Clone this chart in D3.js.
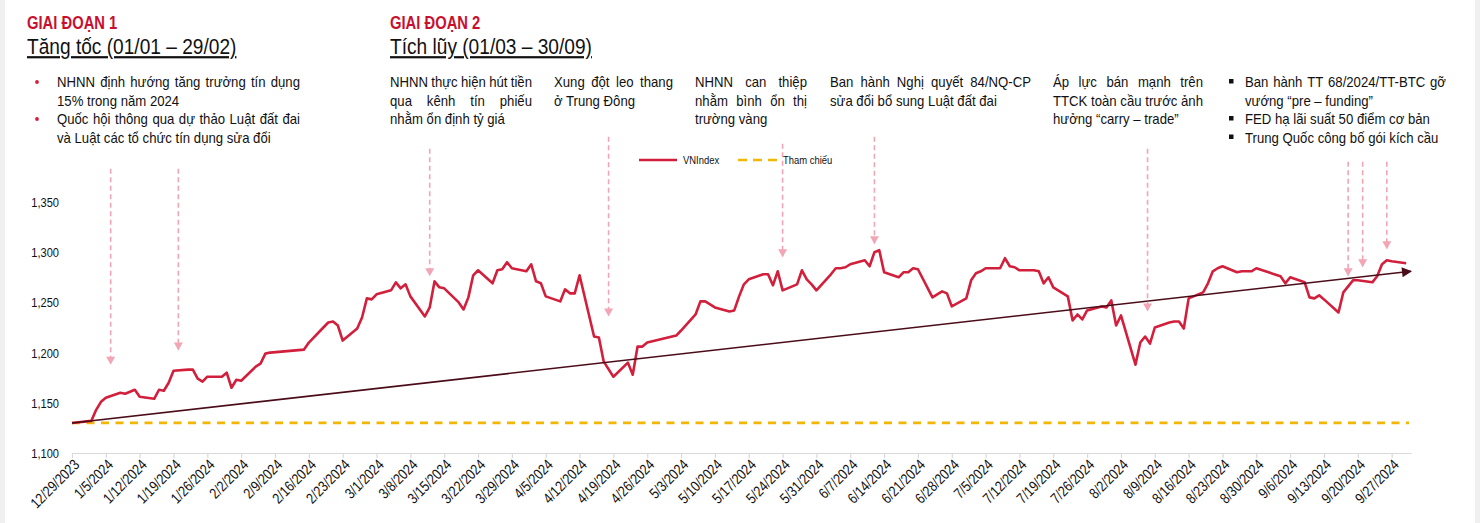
<!DOCTYPE html>
<html><head><meta charset="utf-8">
<script src="https://cdn.jsdelivr.net/npm/d3@7"></script>
<style>body{margin:0;background:#fff;} svg{display:block;}</style>
</head><body><svg id="c" width="1480" height="523"></svg>
<script>
// ---------------- DATA ----------------
const dates = ["2023-12-29","2024-01-02","2024-01-03","2024-01-04","2024-01-05","2024-01-08","2024-01-09","2024-01-10","2024-01-11","2024-01-12",
"2024-01-15","2024-01-16","2024-01-17","2024-01-18","2024-01-19","2024-01-22","2024-01-23","2024-01-24","2024-01-25","2024-01-26",
"2024-01-29","2024-01-30","2024-01-31","2024-02-01","2024-02-02","2024-02-05","2024-02-06","2024-02-07","2024-02-08","2024-02-15",
"2024-02-16","2024-02-19","2024-02-20","2024-02-21","2024-02-22","2024-02-23","2024-02-26","2024-02-27","2024-02-28","2024-02-29",
"2024-03-01","2024-03-04","2024-03-05","2024-03-06","2024-03-07","2024-03-08","2024-03-11","2024-03-12","2024-03-13","2024-03-14",
"2024-03-15","2024-03-18","2024-03-19","2024-03-20","2024-03-21","2024-03-22","2024-03-25","2024-03-26","2024-03-27","2024-03-28",
"2024-03-29","2024-04-01","2024-04-02","2024-04-03","2024-04-04","2024-04-05","2024-04-08","2024-04-09","2024-04-10","2024-04-11",
"2024-04-12","2024-04-15","2024-04-16","2024-04-17","2024-04-19","2024-04-22","2024-04-23","2024-04-24","2024-04-25","2024-04-26",
"2024-05-02","2024-05-03","2024-05-06","2024-05-07","2024-05-08","2024-05-09","2024-05-10","2024-05-13","2024-05-14","2024-05-15",
"2024-05-16","2024-05-17","2024-05-20","2024-05-21","2024-05-22","2024-05-23","2024-05-24","2024-05-27","2024-05-28","2024-05-29",
"2024-05-30","2024-05-31","2024-06-03","2024-06-04","2024-06-05","2024-06-06","2024-06-07","2024-06-10","2024-06-11","2024-06-12",
"2024-06-13","2024-06-14","2024-06-17","2024-06-18","2024-06-19","2024-06-20","2024-06-21","2024-06-24","2024-06-25","2024-06-26",
"2024-06-27","2024-06-28","2024-07-01","2024-07-02","2024-07-03","2024-07-04","2024-07-05","2024-07-08","2024-07-09","2024-07-10",
"2024-07-11","2024-07-12","2024-07-15","2024-07-16","2024-07-17","2024-07-18","2024-07-19","2024-07-22","2024-07-23","2024-07-24",
"2024-07-25","2024-07-26","2024-07-29","2024-07-30","2024-07-31","2024-08-01","2024-08-02","2024-08-05","2024-08-06","2024-08-07",
"2024-08-08","2024-08-09","2024-08-12","2024-08-13","2024-08-14","2024-08-15","2024-08-16","2024-08-19","2024-08-20","2024-08-21",
"2024-08-22","2024-08-23","2024-08-26","2024-08-27","2024-08-28","2024-08-29","2024-08-30","2024-09-04","2024-09-05","2024-09-06",
"2024-09-09","2024-09-10","2024-09-11","2024-09-12","2024-09-13","2024-09-16","2024-09-17","2024-09-18","2024-09-19","2024-09-20",
"2024-09-23","2024-09-24","2024-09-25","2024-09-26","2024-09-27","2024-09-30"];
const vnindex = [1129.93,1132,1143,1151,1155,1160,1159,1161,1163,1156,
1154,1163,1162,1170,1182,1183,1183,1174,1171,1176,
1176,1180,1165,1173,1172,1186,1189,1199,1200,1203,
1210,1225,1230,1231,1227,1212,1224,1235,1254,1253,
1258,1262,1270,1264,1268,1256,1236,1245,1271,1265,
1264,1250,1243,1255,1277,1282,1269,1282,1283,1290,
1284,1281,1288,1271,1269,1256,1251,1263,1259,1259,
1277,1216,1215,1191,1176,1190,1178,1206,1206,1210,
1217,1222,1238,1251,1251,1248,1245,1241,1242,1256,
1268,1273,1278,1278,1267,1281,1262,1268,1282,1273,
1268,1262,1278,1284,1284,1285,1288,1292,1286,1300,
1302,1280,1275,1280,1280,1284,1283,1255,1258,1261,
1259,1246,1254,1272,1279,1281,1284,1284,1294,1286,
1285,1282,1282,1281,1269,1275,1265,1256,1232,1238,
1233,1242,1246,1245,1252,1227,1237,1188,1210,1216,
1209,1225,1230,1231,1231,1224,1254,1260,1269,1281,
1284,1286,1280,1281,1281,1281,1284,1276,1269,1275,
1270,1255,1254,1257,1253,1240,1260,1266,1272,1272,
1270,1276,1288,1292,1291,1289];
const referenceValue = 1129.93;                 // "Tham chiếu"
const trendDates = ["2023-12-29","2024-10-01"];
const trendValues = [1129.93, 1281];
const yTickValues = [1100,1150,1200,1250,1300,1350];
const xTickStart = "2023-12-29", xTickCount = 40;  // weekly ticks
const xDomain = ["2023-12-29","2024-10-01"];
const yDomain = [1100,1350];
// event arrows (date, value at arrow tip, value at arrow top)
const arrowDates = ["2024-01-06","2024-01-20","2024-03-12","2024-04-18","2024-05-24","2024-06-12","2024-08-07T12:00","2024-09-18","2024-09-21","2024-09-26"];
const arrowTipValues = [1188,1202,1276,1236,1295,1308,1241,1276,1285,1303];
const arrowTopValues = [1383,1383,1403,1415,1408,1415,1403,1390,1390,1390];
const legendLabels = ["VNIndex","Tham chiếu"];

const phaseTitles = ["GIAI ĐOẠN 1","GIAI ĐOẠN 2"];
const phaseSubtitles = ["Tăng tốc (01/01 – 29/02)","Tích lũy (01/03 – 30/09)"];
const noteTexts = [
  ["NHNN định hướng tăng trưởng tín dụng","15% trong năm 2024","Quốc hội thông qua dự thảo Luật đất đai","và Luật các tổ chức tín dụng sửa đổi"],
  ["NHNN thực hiện hút tiền","qua kênh tín phiếu","nhằm ổn định tỷ giá"],
  ["Xung đột leo thang","ở Trung Đông"],
  ["NHNN can thiệp","nhằm bình ổn thị","trường vàng"],
  ["Ban hành Nghị quyết 84/NQ-CP","sửa đổi bổ sung Luật đất đai"],
  ["Áp lực bán mạnh trên","TTCK toàn cầu trước ảnh","hưởng “carry – trade”"],
  ["Ban hành TT 68/2024/TT-BTC gỡ","vướng “pre – funding”","FED hạ lãi suất 50 điểm cơ bản","Trung Quốc công bố gói kích cầu"]
];

// ---------------- LAYOUT / STYLE ----------------
const W = 1480, H = 523;
const RED = "#d21f3c", HEAD_RED = "#c8102e", PINK = "#f2a5b5", GOLD = "#f2b705", MAROON = "#4a0c18";
const noteLayout = [
  {x:57,  w:243, justify:[1,0,1,0], bullets:[0,2], btype:"dot"},
  {x:390, w:142, justify:[1,1,0]},
  {x:554, w:119, justify:[1,0]},
  {x:695, w:112, justify:[1,1,0]},
  {x:830, w:201, justify:[1,0]},
  {x:1053,w:150, justify:[1,1,0]},
  {x:1245,w:201, justify:[1,0,0,0], bullets:[0,2,3], btype:"square"}
];
const lineY = [87, 105.5, 124, 142.5];

const svg = d3.select("#c");
svg.append("rect").attr("width",W).attr("height",H).attr("fill","#fff");
svg.append("rect").attr("x",0).attr("y",0).attr("width",5).attr("height",H).attr("fill","#f0f0f0");
svg.append("rect").attr("x",1475).attr("y",0).attr("width",5).attr("height",H).attr("fill","#f0f0f0");

// font detection (narrow font)
function rawMeasure(fam, str, size, weight) {
  const t = svg.append("text").attr("font-family",fam).attr("font-size",size).attr("font-weight",weight||"normal").text(str);
  const w = t.node().getComputedTextLength(); t.remove(); return w;
}
const wN = rawMeasure("'Liberation Sans Narrow'", "NHNN định hướng tăng", 14);
const wR = rawMeasure("'Liberation Sans'", "NHNN định hướng tăng", 14);
const narrowOK = wN < wR * 0.9;
const FONT = narrowOK ? "'Liberation Sans Narrow','Arial Narrow',sans-serif" : "'Liberation Sans',Arial,sans-serif";
const SX = narrowOK ? 1 : 0.82;

function measure(str, size, weight, sx) { return rawMeasure(FONT, str, size, weight) * SX * (sx || 1); }
function txt(g, x, y, str, o) {
  o = o || {};
  return g.append("text").attr("transform", `translate(${x},${y}) scale(${SX * (o.sx || 1)},1)`)
    .attr("font-family", FONT).attr("font-size", o.size || 14).attr("fill", o.fill || "#111")
    .attr("font-weight", o.weight || "normal").attr("text-anchor", o.anchor || "start")
    .attr("text-decoration", o.underline ? "underline" : null).text(str);
}
function justLine(g, x, y, width, str, o) {
  const words = str.split(" ");
  const ws = words.map(w => measure(w, o.size, o.weight, o.sx));
  const total = d3.sum(ws);
  const gap = words.length > 1 ? Math.max((width - total) / (words.length - 1), 2) : 0;
  let cx = x;
  words.forEach((w, i) => { txt(g, cx, y, w, o); cx += ws[i] + gap; });
}

// ---------------- HEADERS / NOTES ----------------
const head = svg.append("g");
[27, 390].forEach((x, i) => {
  txt(head, x, 29, phaseTitles[i], {size:17.5, weight:"bold", fill:HEAD_RED, sx:1.03});
  txt(head, x, 54, phaseSubtitles[i], {size:22, fill:"#111", underline:true, sx:1.06});
});
const noteStyle = {size:15, fill:"#111", sx:1.07};
noteTexts.forEach((lines, bi) => {
  const L = noteLayout[bi];
  lines.forEach((s, li) => {
    if (L.justify[li]) justLine(head, L.x, lineY[li], L.w, s, noteStyle);
    else txt(head, L.x, lineY[li], s, noteStyle);
  });
  (L.bullets || []).forEach(li => {
    if (L.btype === "dot") head.append("circle").attr("cx", 37).attr("cy", lineY[li] - 5).attr("r", 1.9).attr("fill", RED);
    else head.append("rect").attr("x", L.x - 16).attr("y", lineY[li] - 8).attr("width", 4.5).attr("height", 4.5).attr("fill", "#111");
  });
});

// ---------------- SCALES ----------------
const parse = d3.isoParse;
const x = d3.scaleTime().domain(xDomain.map(parse)).range([72, 1411]);
const y = d3.scaleLinear().domain(yDomain).range([453, 202]);
const data = dates.map((d, i) => ({date: parse(d), value: vnindex[i]}));

// ---------------- AXES ----------------
const t0 = parse(xTickStart);
const xTicks = d3.range(xTickCount).map(i => d3.timeDay.offset(t0, 7 * i));
const fmt = d => `${d.getMonth()+1}/${d.getDate()}/${d.getFullYear()}`;
const xAxis = svg.append("g").attr("transform", `translate(0,453)`)
  .call(d3.axisBottom(x).tickValues(xTicks).tickFormat(fmt).tickSize(5).tickSizeOuter(0));
xAxis.select(".domain").attr("stroke", "#d9d9d9").attr("stroke-width", 1.2);
xAxis.selectAll(".tick line").attr("stroke", "#d9d9d9").attr("stroke-width", 1.2);
xAxis.selectAll(".tick text").attr("x", null).attr("y", null).attr("dy", "0.35em")
  .attr("transform", `translate(4,9) rotate(-45) scale(${SX},1)`).attr("text-anchor", "end")
  .attr("font-family", FONT).attr("font-size", 15).attr("fill", "#111");

const yAxis = svg.append("g").attr("transform", "translate(72,0)")
  .call(d3.axisLeft(y).tickValues(yTickValues).tickFormat(d3.format(",")).tickSize(0));
yAxis.select(".domain").remove();
yAxis.selectAll(".tick text").attr("x", null).attr("dy", "0.35em")
  .attr("transform", `translate(-13,0) scale(${SX * 1.04},1)`).attr("text-anchor", "end")
  .attr("font-family", FONT).attr("font-size", 13).attr("fill", "#111");

// ---------------- SERIES ----------------
// reference line
svg.append("line").attr("x1", x(parse(xDomain[0]))).attr("x2", x(parse(xDomain[1])) - 2)
  .attr("y1", y(referenceValue)).attr("y2", y(referenceValue))
  .attr("stroke", GOLD).attr("stroke-width", 2.7).attr("stroke-dasharray", "8,6.5");

// trend line with arrow
const defs = svg.append("defs");
defs.append("marker").attr("id", "tri").attr("viewBox", "0 0 10 10").attr("refX", 9).attr("refY", 5)
  .attr("markerWidth", 14).attr("markerHeight", 10).attr("markerUnits", "userSpaceOnUse").attr("orient", "auto")
  .append("path").attr("d", "M0,0 L10,5 L0,10 z").attr("fill", MAROON);

const line = d3.line().x(d => x(d.date)).y(d => y(d.value));
svg.append("path").datum(data).attr("d", line).attr("fill", "none").attr("stroke", RED)
  .attr("stroke-width", 2.6).attr("stroke-linejoin", "round");

svg.append("line")
  .attr("x1", x(parse(trendDates[0]))).attr("y1", y(trendValues[0]))
  .attr("x2", x(parse(trendDates[1]))).attr("y2", y(trendValues[1]))
  .attr("stroke", MAROON).attr("stroke-width", 1.6).attr("marker-end", "url(#tri)");

// event arrows
arrowDates.forEach((d, i) => {
  const ax = x(parse(d));
  svg.append("line").attr("x1", ax).attr("x2", ax)
    .attr("y1", y(arrowTopValues[i])).attr("y2", y(arrowTipValues[i]) - 1)
    .attr("stroke", PINK).attr("stroke-width", 1.6).attr("stroke-dasharray", "5,3.5");
  const ty = y(arrowTipValues[i]);
  svg.append("path").attr("d", `M${ax-4.5},${ty-8} L${ax+4.5},${ty-8} L${ax},${ty} Z`).attr("fill", PINK);
});

// ---------------- LEGEND ----------------
const lg = svg.append("g");
lg.append("line").attr("x1", 639).attr("x2", 677).attr("y1", 160).attr("y2", 160).attr("stroke", RED).attr("stroke-width", 2.6);
txt(lg, 683, 164, legendLabels[0], {size:11.5});
lg.append("line").attr("x1", 738).attr("x2", 778).attr("y1", 160).attr("y2", 160).attr("stroke", GOLD).attr("stroke-width", 2.7).attr("stroke-dasharray", "9,6");
txt(lg, 783, 164, legendLabels[1], {size:11.5});
</script></body></html>
